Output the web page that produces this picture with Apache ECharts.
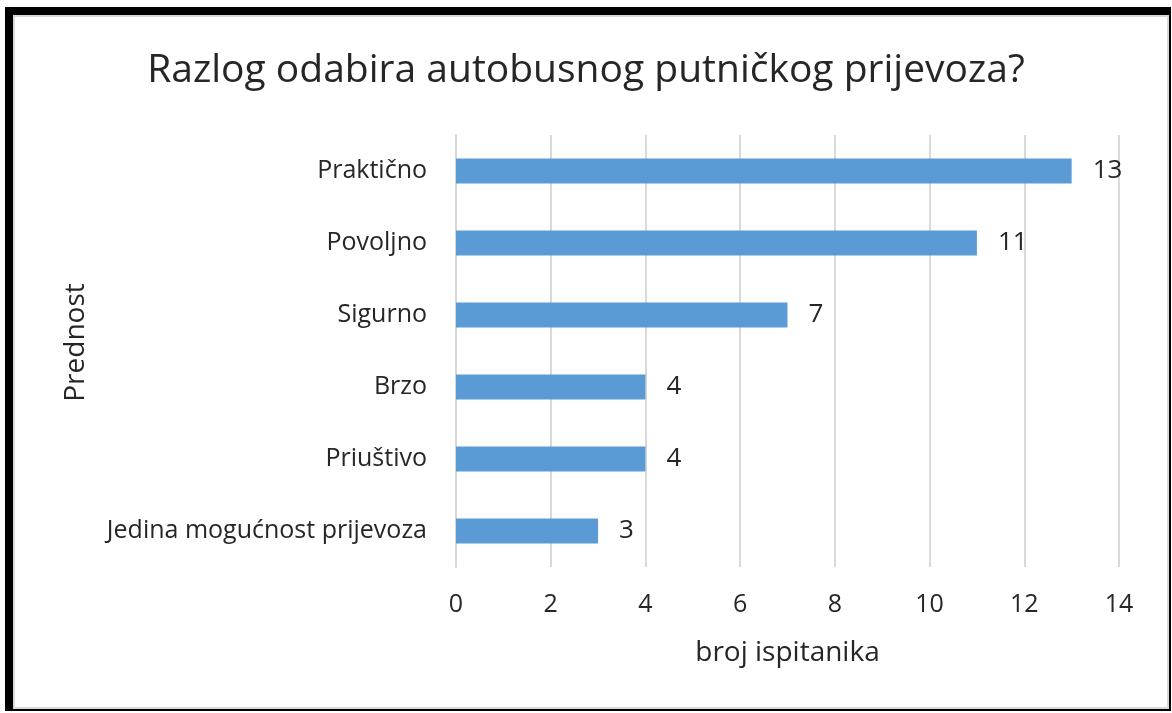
<!DOCTYPE html>
<html>
<head>
<meta charset="utf-8">
<script src="https://cdn.jsdelivr.net/npm/echarts@6/dist/echarts.min.js"></script>
<style>
  html, body { margin: 0; padding: 0; background: #fff; }
  #main { width: 1172px; height: 713px; }
  #frame {
    position: absolute; left: 5px; top: 7px; width: 1156px; height: 694px;
    border-left: 8px solid #000; border-top: 8px solid #000;
    border-right: 2px solid #000; border-bottom: 2px solid #000;
    pointer-events: none;
  }
  #frame div { width: 100%; height: 100%; box-sizing: border-box; border: 2px solid #d9d9d9; }
</style>
</head>
<body>
<div id="main"></div>
<div id="frame"><div></div></div>
<script>
// kategorije odozdo prema gore
var categories = ['Jedina mogućnost prijevoza', 'Priuštivo', 'Brzo', 'Sigurno', 'Povoljno', 'Praktično'];
var values = [3, 4, 4, 7, 11, 13];
var xTicks = [0, 2, 4, 6, 8, 10, 12, 14];

var font = 'Open Sans';
var myChart = echarts.init(document.getElementById('main'));

myChart.setOption({
    animation: false,
    title: {
        text: 'Razlog odabira autobusnog putničkog prijevoza?',
        left: 'center',
        top: 46,
        textStyle: { fontFamily: font, fontSize: 39, fontWeight: 'normal', color: '#262626' }
    },
    grid: { left: 456, right: 53, top: 135, bottom: 146 },
    xAxis: {
        type: 'value',
        min: xTicks[0],
        max: xTicks[xTicks.length - 1],
        interval: 2,
        name: 'broj ispitanika',
        nameLocation: 'middle',
        nameGap: 72,
        nameTextStyle: { fontFamily: font, fontSize: 28, color: '#262626' },
        axisLine: { show: false },
        axisTick: { show: false },
        axisLabel: { fontFamily: font, fontSize: 25, color: '#262626', margin: 25 },
        splitLine: { lineStyle: { color: '#d9d9d9', width: 2 } }
    },
    yAxis: {
        type: 'category',
        data: categories,
        name: 'Prednost',
        nameLocation: 'middle',
        nameGap: 366,
        nameTextStyle: { fontFamily: font, fontSize: 28, color: '#262626', padding: [0, 0, 0, 17] },
        axisLine: { lineStyle: { color: '#d9d9d9', width: 2 } },
        axisTick: { length: 10, lineStyle: { color: '#d9d9d9', width: 2 } },
        axisLabel: { fontFamily: font, fontSize: 25, color: '#262626', margin: 29 }
    },
    series: [{
        type: 'bar',
        data: values,
        barWidth: 25,
        itemStyle: { color: '#5b9bd5' },
        label: {
            show: true,
            position: 'right',
            distance: 21,
            fontFamily: font,
            fontSize: 26,
            color: '#262626'
        }
    }]
});
</script>
</body>
</html>
